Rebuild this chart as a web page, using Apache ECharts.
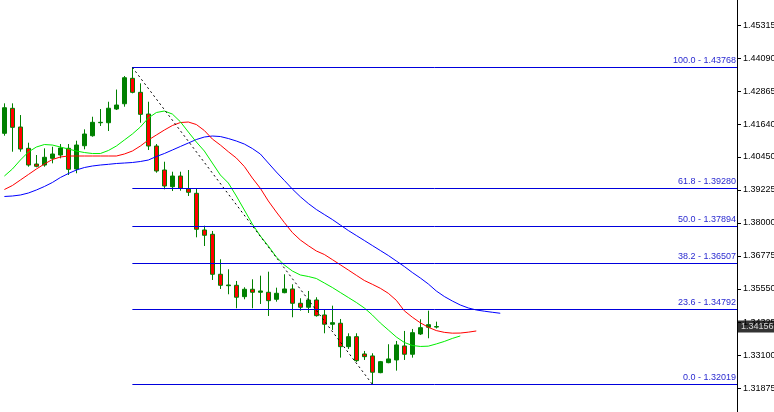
<!DOCTYPE html>
<html>
<head>
<meta charset="utf-8">
<script src="https://cdn.jsdelivr.net/npm/echarts@6/dist/echarts.min.js"></script>
<style>
html,body{margin:0;padding:0;background:#fff;}
#chart{width:774px;height:412px;}
</style>
</head>
<body>
<div id="chart"></div>
<script>
// ---- data ----
const barIndex = Array.from({length: 55}, (_, i) => i);
const opens  = [1.41322,1.42249,1.41556,1.40766,1.40184,1.40147,1.40395,1.40518,1.40766,1.39999,1.40862,1.41233,1.41715,1.41715,1.42223,1.42419,1.43361,1.42842,1.42037,1.40851,1.39962,1.39343,1.39739,1.39265,1.39098,1.37738,1.37579,1.36096,1.35673,1.35688,1.35266,1.35540,1.35429,1.35429,1.35169,1.35414,1.35551,1.35021,1.34873,1.35143,1.34588,1.34243,1.34280,1.33413,1.33783,1.33142,1.33068,1.32449,1.32820,1.32920,1.33439,1.33131,1.33883,1.34132,1.34140];
const closes = [1.42271,1.41544,1.40740,1.40147,1.40099,1.40433,1.40555,1.40777,1.39988,1.40888,1.41296,1.41730,1.41730,1.42252,1.42371,1.43383,1.42842,1.42026,1.40851,1.39925,1.39369,1.39739,1.39284,1.39135,1.37764,1.37542,1.36096,1.35688,1.35699,1.35244,1.35540,1.35429,1.35477,1.35118,1.35392,1.35551,1.35021,1.34873,1.35143,1.34562,1.34243,1.34302,1.33413,1.33783,1.32894,1.33042,1.32464,1.32857,1.32957,1.33476,1.33131,1.33931,1.34117,1.34228,1.34156];
const lows   = [1.41233,1.40640,1.40640,1.40084,1.40062,1.40084,1.40210,1.40395,1.39777,1.39840,1.40729,1.41196,1.41593,1.41407,1.42186,1.42308,1.42805,1.41715,1.40703,1.39862,1.39246,1.39183,1.39195,1.38998,1.37467,1.37145,1.35885,1.35551,1.35355,1.34836,1.35169,1.34836,1.34995,1.34550,1.35080,1.35392,1.34502,1.34747,1.34662,1.34525,1.33909,1.34032,1.33005,1.33327,1.32846,1.32920,1.32019,1.32427,1.32797,1.32523,1.32920,1.33005,1.33846,1.33724,1.34087];
const highs  = [1.42434,1.42434,1.42000,1.40974,1.40518,1.40766,1.40825,1.40925,1.40925,1.41048,1.41470,1.41937,1.42223,1.42493,1.42945,1.43446,1.43768,1.43175,1.42493,1.40925,1.40269,1.39899,1.39899,1.39962,1.39265,1.37897,1.37701,1.36652,1.36281,1.35848,1.35614,1.35911,1.36044,1.36192,1.35599,1.36096,1.35725,1.35207,1.35477,1.35244,1.34773,1.34932,1.34439,1.33909,1.33909,1.33253,1.33168,1.32883,1.33502,1.33624,1.33995,1.34069,1.34428,1.34747,1.34339];

// Alligator lines (values read at each bar slot, lines run past the last bar)
const lipsGreen = [1.39739,1.39999,1.40332,1.40629,1.40814,1.40907,1.40888,1.40814,1.40740,1.40666,1.40610,1.40573,1.40573,1.40685,1.40851,1.41074,1.41296,1.41556,1.41889,1.42093,1.42149,1.42037,1.41752,1.41370,1.41000,1.40666,1.40221,1.39777,1.39480,1.38998,1.38479,1.37960,1.37516,1.37145,1.36737,1.36441,1.36218,1.36070,1.36014,1.35940,1.35774,1.35607,1.35421,1.35236,1.35051,1.34847,1.34588,1.34291,1.34032,1.33772,1.33568,1.33457,1.33420,1.33431,1.33513,1.33605,1.33717,1.33809];
const teethRed = [1.39239,1.39387,1.39591,1.39795,1.39999,1.40184,1.40351,1.40444,1.40481,1.40481,1.40481,1.40481,1.40481,1.40481,1.40481,1.40555,1.40666,1.40851,1.41074,1.41259,1.41444,1.41611,1.41722,1.41741,1.41648,1.41426,1.41111,1.40888,1.40640,1.40407,1.40092,1.39665,1.39284,1.38813,1.38405,1.38016,1.37645,1.37367,1.37156,1.36960,1.36830,1.36641,1.36448,1.36255,1.36059,1.35866,1.35725,1.35577,1.35392,1.35132,1.34743,1.34506,1.34298,1.34132,1.34009,1.33943,1.33913,1.33917,1.33950,1.33994];
const jawBlue = [1.38980,1.38998,1.39035,1.39109,1.39221,1.39350,1.39499,1.39684,1.39832,1.39962,1.40054,1.40110,1.40147,1.40173,1.40203,1.40221,1.40240,1.40277,1.40332,1.40462,1.40573,1.40703,1.40833,1.40963,1.41092,1.41185,1.41222,1.41203,1.41129,1.41037,1.40925,1.40759,1.40555,1.40221,1.39888,1.39576,1.39258,1.38972,1.38720,1.38498,1.38312,1.38127,1.37923,1.37719,1.37534,1.37349,1.37163,1.36978,1.36793,1.36589,1.36385,1.36163,1.35959,1.35737,1.35477,1.35273,1.35106,1.34958,1.34847,1.34773,1.34728,1.34688,1.34651];

// Fibonacci retracement
const fibPercents = ['100.0','61.8','50.0','38.2','23.6','0.0'];
const fibValues   = [1.43768,1.39280,1.37894,1.36507,1.34792,1.32019];
const fibStartBar = 16;   // swing high bar
const fibEndBar   = 46;   // swing low bar

// price axis
const tickValues = [1.45315,1.44090,1.42865,1.41640,1.40450,1.39225,1.38000,1.36775,1.35550,1.34325,1.33100,1.31875];
const lastPrice = 1.34156;
const yMin = 1.30990, yMax = 1.46265;
const xMin = -0.55, xMax = 91.6;

// ---- build ----
const candleData = barIndex.map(i => [i, opens[i], closes[i], lows[i], highs[i]]);
const toLine = arr => arr.map((v, i) => [i, v]);

const fibMarks = fibValues.map((v, k) => [
  {coord: [fibStartBar, v], name: fibPercents[k] + ' - ' + v.toFixed(5)},
  {coord: [xMax, v]}
]);

const chart = echarts.init(document.getElementById('chart'), null, {renderer: 'canvas'});
chart.setOption({
  animation: false,
  backgroundColor: '#ffffff',
  grid: {left: 0, right: 37, top: 0, bottom: 0, containLabel: false, outerBoundsMode: 'none'},
  xAxis: {type: 'value', min: xMin, max: xMax, show: false},
  yAxis: {
    type: 'value', position: 'right', min: yMin, max: yMax, scale: true,
    splitLine: {show: false},
    axisLine: {show: true, onZero: false, lineStyle: {color: '#000', width: 1}},
    axisTick: {show: true, length: 4, lineStyle: {color: '#000'}, customValues: tickValues},
    axisLabel: {
      show: true, margin: 6, color: '#000', fontSize: 9, fontFamily: 'Liberation Sans',
      customValues: tickValues,
      formatter: v => v.toFixed(5)
    }
  },
  series: [
    {
      type: 'candlestick',
      data: candleData,
      encode: {x: 0, y: [1, 2, 3, 4]},
      barWidth: 4,
      itemStyle: {color: '#008000', color0: '#ff0000', borderColor: '#008000', borderColor0: '#008000', borderWidth: 1},
      markLine: {
        silent: true, symbol: ['none', 'none'], animation: false,
        lineStyle: {color: '#0000dd', width: 1, type: 'solid', opacity: 1},
        label: {show: true, position: 'insideEndTop', formatter: p => p.name, color: '#2a2ad0', fontSize: 9, fontFamily: 'Liberation Sans', distance: [1, 2]},
        emphasis: {disabled: true},
        data: fibMarks
      }
    },
    {type: 'line', data: toLine(jawBlue), showSymbol: false, lineStyle: {color: '#0000ff', width: 1}, silent: true},
    {type: 'line', data: toLine(teethRed), showSymbol: false, lineStyle: {color: '#ff0000', width: 1}, silent: true},
    {type: 'line', data: toLine(lipsGreen), showSymbol: false, lineStyle: {color: '#00ee00', width: 1}, silent: true},
    {
      type: 'line',
      data: [[fibStartBar, fibValues[0]], [fibEndBar, fibValues[fibValues.length - 1]]],
      showSymbol: false, silent: true,
      lineStyle: {color: '#000', width: 1, type: [2, 3]}
    },
    {
      type: 'scatter', clip: false, silent: true, symbolSize: 0, zlevel: 1,
      data: [[xMax, lastPrice]],
      label: {
        show: true, position: 'right', distance: 1, formatter: () => lastPrice.toFixed(5),
        color: '#fff', backgroundColor: '#000', fontSize: 9, fontFamily: 'Liberation Sans',
        padding: [2, 4, 1, 3]
      }
    }
  ]
});
</script>
</body>
</html>
